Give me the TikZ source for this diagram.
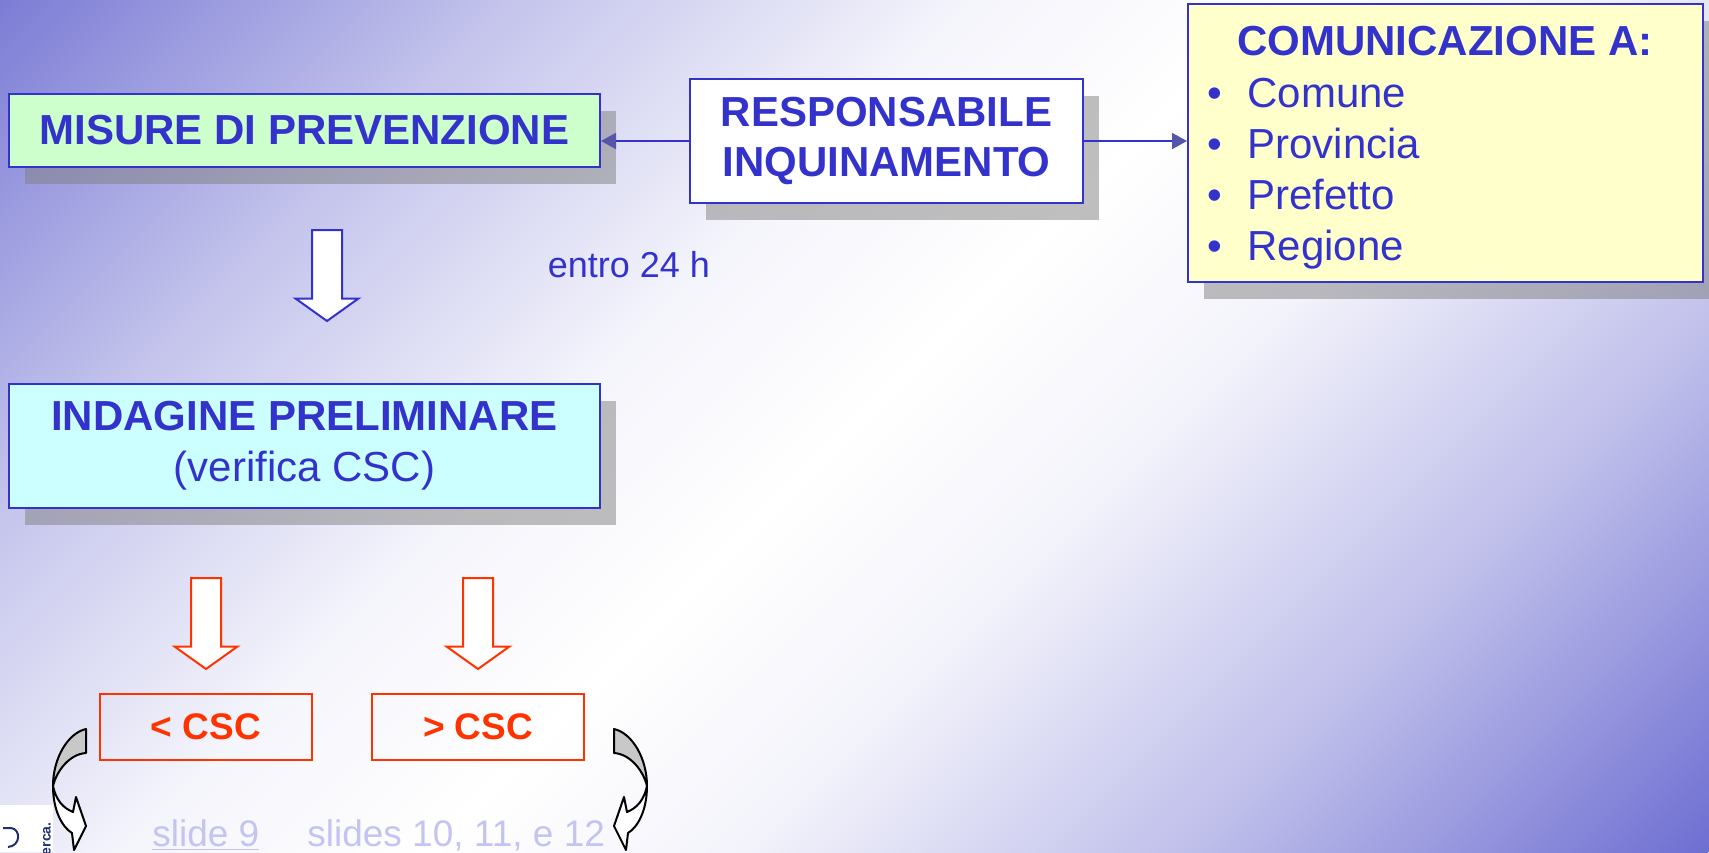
\documentclass[tikz,border=0pt]{standalone}
\usepackage{fontspec}
\setmainfont{Liberation Sans}
\usepackage{tikz}
\usetikzlibrary{arrows.meta}
\usetikzlibrary{shadows}

\definecolor{txtblue}{HTML}{3333CC}
\definecolor{headblue}{HTML}{5555AA}
\definecolor{cscred}{HTML}{FF3300}
\definecolor{linkblue}{HTML}{C4C4F2}
\definecolor{tlblue}{HTML}{7C7CD6}
\definecolor{brblue}{HTML}{6E6ED2}
\colorlet{tlmid}{tlblue!45!white}
\colorlet{tlpale}{tlblue!8!white}
\colorlet{brmid}{brblue!45!white}
\colorlet{brpale}{brblue!8!white}
\definecolor{misfill}{HTML}{CCFFCC}
\definecolor{indfill}{HTML}{CCFFFF}
\definecolor{comfill}{HTML}{FFFFCC}
\definecolor{backgray}{HTML}{C8C8C8}
\definecolor{logoblue}{HTML}{1F2F70}

\pgfdeclareverticalshading{slidebg}{100bp}{color(0bp)=(brblue); color(25bp)=(brblue);
  color(35bp)=(brmid); color(44bp)=(brpale); color(50bp)=(white); color(56bp)=(tlpale);
  color(65bp)=(tlmid); color(75bp)=(tlblue); color(100bp)=(tlblue)}

\tikzset{
  bigtext/.style={font=\fontsize{21}{25}\selectfont, text=txtblue, inner sep=0pt},
  flowbox/.style={draw=txtblue, line width=1pt, align=center, inner sep=0pt,
    drop shadow={draw=none, fill=black!50, opacity=0.5, shadow xshift=8pt, shadow yshift=-8.5pt}},
  cscbox/.style={draw=cscred, line width=1pt, text=cscred, font=\fontsize{18.5}{22}\selectfont\bfseries,
    minimum width=106pt, minimum height=33pt},
  linktext/.style={text=linkblue, font=\fontsize{18.5}{22}\selectfont, anchor=base west, inner sep=0pt},
  link/.style={-{Triangle[length=7.5pt,width=8pt,color=headblue]}, draw=txtblue, line width=1pt},
  blockarrow/.style={fill=white, line width=1pt, line join=miter},
  curlarrow/.style={draw=black, line width=1pt, line join=round},
  curl/.pic={
    \draw[curlarrow, fill=backgray] (86,729) .. controls (68,733) and (53,758) .. (53,786)
      .. controls (57,770) and (70,754) .. (86,753) -- cycle;
    \draw[curlarrow, fill=white] (53,786) .. controls (53,810) and (62,827) .. (72,833)
      -- (74,850) -- (86,826) -- (76,797) -- (73,812)
      .. controls (63,808) and (56,800) .. cycle;
  }
}

\begin{document}
\begin{tikzpicture}[x=0.5pt,y=-0.5pt]
  \useasboundingbox (0,0) rectangle (1709,852);

  % background
  \begin{scope}
    \clip (0,0) rectangle (1709,852);
    \begin{scope}[transform canvas={shift={(854.5,426)}, rotate=45}]
      \shade[shading=slidebg] (-1000,-905.4) rectangle (1000,905.4);
    \end{scope}
  \end{scope}

  % boxes
  \node[flowbox, bigtext, fill=misfill, font=\fontsize{21}{25}\selectfont\bfseries,
        minimum width=295.5pt, minimum height=36.5pt] (misure) at (304.5,130.5) {MISURE DI PREVENZIONE};
  \node[flowbox, bigtext, fill=white, font=\fontsize{21}{25}\selectfont\bfseries,
        minimum width=196.5pt, minimum height=62pt] (resp) at (886.5,141) {RESPONSABILE\\INQUINAMENTO};
  \node[flowbox, fill=comfill, minimum width=257.5pt, minimum height=139pt] (com) at (1445.5,143) {};
  \node[flowbox, bigtext, fill=indfill, font=\fontsize{21}{25.5}\selectfont,
        minimum width=295.5pt, minimum height=62pt] (indagine) at (304.5,446)
        {\textbf{INDAGINE PRELIMINARE}\\(verifica CSC)};

  \node[bigtext, font=\fontsize{21}{25}\selectfont\bfseries, anchor=base] (comtitle) at (1445,55) {COMUNICAZIONE A:};
  \foreach \name [count=\i] in {Comune,Provincia,Prefetto,Regione}{
    \node[bigtext, anchor=base] (dot\i) at (1215,{107+51*(\i-1)}) {\textbullet};
    \node[bigtext, anchor=base west] (entry\i) at (1247,{107+51*(\i-1)}) {\name};
  }

  \node[bigtext, font=\fontsize{18}{22}\selectfont] (entro) at (629,265) {entro 24 h};

  \node[cscbox] (lower) at (206,727) {< CSC};
  \node[cscbox] (higher) at (478,727) {> CSC};

  % connectors
  \draw[link] (resp.west) -- (resp.west -| misure.east);
  \draw[link] (resp.east) -- (resp.east -| com.west);

  % block arrows
  \foreach \cx/\ty/\col in {327/230/txtblue, 206/578/cscred, 478/578/cscred}
    \draw[blockarrow, draw=\col] (\cx-15,\ty) -- (\cx+15,\ty) -- (\cx+15,\ty+68.5) -- (\cx+31.5,\ty+68.5)
      -- (\cx,\ty+91) -- (\cx-31.5,\ty+68.5) -- (\cx-15,\ty+68.5) -- cycle;

  % curved arrows
  \pic (lcurl) at (0,0) {curl};
  \pic[xscale=-1] (rcurl) at (700,0) {curl};

  % links
  \node[linktext] (slidenine) at (152,846) {\underline{slide 9}};
  \node[linktext] (slidesten) at (307,846) {\underline{slides 10, 11, e 12}};

  % logo corner
  \fill[white] (0,805) rectangle (53,852);
  \draw[logoblue, line width=1pt] (3,828) -- (11,828) .. controls (21,829) and (21,846) .. (8,847);
  \node[rotate=90, anchor=east, font=\fontsize{7}{8}\selectfont\bfseries, text=logoblue, inner sep=0pt] (logo) at (47,822) {erca.};
\end{tikzpicture}
\end{document}
